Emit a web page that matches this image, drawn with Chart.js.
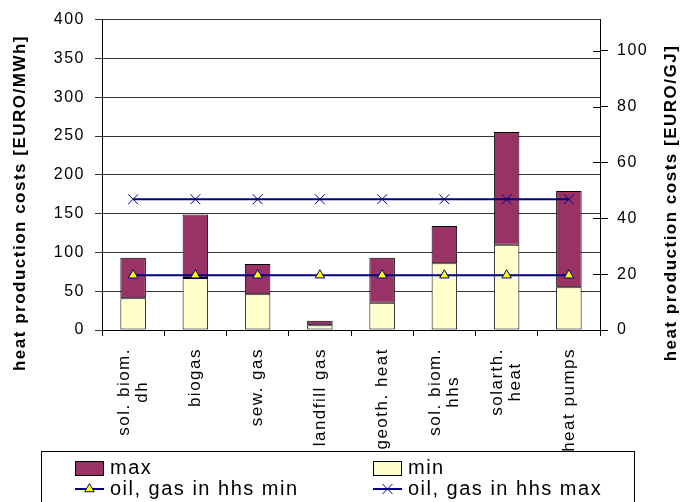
<!DOCTYPE html>
<html>
<head>
<meta charset="utf-8">
<style>
  html, body { margin: 0; padding: 0; background: #ffffff; }
  canvas { display: block; }
</style>
<script src="https://cdn.jsdelivr.net/npm/chart.js@4/dist/chart.umd.min.js"></script>
</head>
<body>
<canvas id="chart" width="690" height="502"></canvas>
<script>
// Heat production cost ranges per technology (EURO/MWh)
const categories = [
  ['sol. biom.', 'dh'],
  ['biogas'],
  ['sew. gas'],
  ['landfill gas'],
  ['geoth. heat'],
  ['sol. biom.', 'hhs'],
  ['solarth.', 'heat'],
  ['heat pumps']
];
const minCost = [41, 67, 46, 6, 35, 86, 110, 55];
const maxCost = [93, 149, 85, 12, 93, 134, 255, 179];

// Reference costs of oil / gas heating in households (EURO/MWh)
const oilGasMin = [70.6, 70.6, 70.6, 70.6, 70.6, 70.6, 70.6, 70.6];
const oilGasMax = [168.5, 168.5, 168.5, 168.5, 168.5, 168.5, 168.5, 168.5];

// Axis ticks: left in EURO/MWh, right in EURO/GJ
const mwhTicks = [0, 50, 100, 150, 200, 250, 300, 350, 400];
const gjTicks = [0, 20, 40, 60, 80, 100];
const GJ_PER_MWH = 3.6;

const FONT = '"Liberation Sans", Arial, sans-serif';
const SPACING = '1.5px';
const MAX_COLOR = '#993366';
const MIN_COLOR = '#FFFFCC';
const LINE_COLOR = '#000080';

// Axis titles, category labels, inner right ticks and the boxed legend
const decor = {
  id: 'decor',
  beforeDraw(chart) {
    chart.ctx.letterSpacing = SPACING;
  },
  afterDraw(chart) {
    const ctx = chart.ctx;
    const area = chart.chartArea;
    const xs = chart.scales.x;
    const y2 = chart.scales.y2;

    ctx.save();
    ctx.letterSpacing = SPACING;

    // right axis tick marks cross the axis line
    ctx.strokeStyle = '#000';
    ctx.lineWidth = 1;
    y2.ticks.forEach(t => {
      const y = Math.round(y2.getPixelForValue(t.value)) + 0.5;
      ctx.beginPath();
      ctx.moveTo(area.right - 7, y);
      ctx.lineTo(area.right, y);
      ctx.stroke();
    });

    // category labels, rotated, lines centred on each other
    ctx.fillStyle = '#000';
    ctx.font = '17px ' + FONT;
    ctx.textAlign = 'center';
    ctx.textBaseline = 'middle';
    categories.forEach((lines, i) => {
      const cx = xs.getPixelForValue(i);
      const longest = Math.max(...lines.map(l => ctx.measureText(l).width));
      const cy = area.bottom + 18 + longest / 2;
      lines.forEach((line, j) => {
        ctx.save();
        ctx.translate(cx + (j - (lines.length - 1) / 2) * 18, cy);
        ctx.rotate(-Math.PI / 2);
        ctx.fillText(line, 0, 0);
        ctx.restore();
      });
    });

    // axis titles
    ctx.font = 'bold 17px ' + FONT;
    [[20, 'heat production costs [EURO/MWh]'], [671, 'heat production costs [EURO/GJ]']].forEach(([x, text]) => {
      ctx.save();
      ctx.translate(x, 203);
      ctx.rotate(-Math.PI / 2);
      ctx.fillText(text, 0, 0);
      ctx.restore();
    });

    // legend
    ctx.strokeStyle = '#000';
    ctx.lineWidth = 1;
    ctx.strokeRect(41.5, 451.5, 593, 80);
    const ds = chart.data.datasets;
    const entries = [
      { d: ds[0], x: 75, y: 468 },
      { d: ds[1], x: 373, y: 468 },
      { d: ds[2], x: 75, y: 489 },
      { d: ds[3], x: 373, y: 489 }
    ];
    entries.forEach(({ d, x, y }) => {
      if (d.type === 'bar') {
        ctx.fillStyle = d.backgroundColor;
        ctx.fillRect(x, y - 7, 29, 15);
        ctx.strokeStyle = '#000';
        ctx.lineWidth = 1;
        ctx.strokeRect(x + 0.5, y - 6.5, 28, 14);
      } else {
        ctx.strokeStyle = d.borderColor;
        ctx.lineWidth = 2;
        ctx.beginPath();
        ctx.moveTo(x, y);
        ctx.lineTo(x + 29, y);
        ctx.stroke();
        ctx.fillStyle = d.pointBackgroundColor;
        ctx.strokeStyle = d.pointBorderColor;
        ctx.lineWidth = d.pointBorderWidth;
        Chart.helpers.drawPoint(ctx, {
          pointStyle: d.pointStyle, radius: d.pointRadius, rotation: 0, borderWidth: d.pointBorderWidth
        }, x + 14.5, y);
      }
      ctx.fillStyle = '#000';
      ctx.font = '20px ' + FONT;
      ctx.textAlign = 'left';
      ctx.textBaseline = 'middle';
      ctx.fillText(d.label, x + 35, y);
    });

    ctx.restore();
  }
};

const tickFont = { family: FONT, size: 16 };

new Chart(document.getElementById('chart'), {
  data: {
    labels: categories.map(c => c.join(' ')),
    datasets: [
      {
        type: 'bar', label: 'max',
        data: minCost.map((v, i) => [v, maxCost[i]]),
        backgroundColor: MAX_COLOR, borderColor: '#000', borderWidth: 1, borderSkipped: false,
        grouped: false, barPercentage: 0.41, categoryPercentage: 1, order: 2
      },
      {
        type: 'bar', label: 'min',
        data: minCost,
        backgroundColor: MIN_COLOR, borderColor: '#000', borderWidth: 1, borderSkipped: false,
        grouped: false, barPercentage: 0.41, categoryPercentage: 1, order: 2
      },
      {
        type: 'line', label: 'oil, gas in hhs min',
        data: oilGasMin,
        borderColor: LINE_COLOR, borderWidth: 2,
        pointStyle: 'triangle', pointRadius: 5.5,
        pointBackgroundColor: '#FFFF00', pointBorderColor: LINE_COLOR, pointBorderWidth: 1,
        order: 1
      },
      {
        type: 'line', label: 'oil, gas in hhs max',
        data: oilGasMax,
        borderColor: LINE_COLOR, borderWidth: 2,
        pointStyle: 'crossRot', pointRadius: 7,
        pointBackgroundColor: LINE_COLOR, pointBorderColor: LINE_COLOR, pointBorderWidth: 1,
        order: 1
      }
    ]
  },
  options: {
    responsive: false,
    animation: false,
    devicePixelRatio: 1,
    layout: { padding: { top: 15, left: 0, right: 0, bottom: 0 } },
    plugins: { legend: { display: false }, tooltip: { enabled: false } },
    scales: {
      x: {
        type: 'category',
        offset: true,
        grid: { offset: true, drawOnChartArea: false, tickLength: 6, color: '#000' },
        border: { color: '#000', width: 1 },
        ticks: { display: false },
        afterFit(s) { s.height = 172; }
      },
      y: {
        position: 'left',
        min: 0, max: 400,
        afterBuildTicks(s) { s.ticks = mwhTicks.map(v => ({ value: v })); },
        grid: { color: '#333', tickLength: 7 },
        border: { color: '#000', width: 1 },
        ticks: { font: tickFont, color: '#000', padding: 10 },
        afterFit(s) { s.width = 102; }
      },
      y2: {
        position: 'right',
        min: 0, max: 400 / GJ_PER_MWH,
        afterBuildTicks(s) { s.ticks = gjTicks.map(v => ({ value: v })); },
        grid: { drawOnChartArea: false, tickLength: 8, color: '#000' },
        border: { color: '#000', width: 1 },
        ticks: { font: tickFont, color: '#000', padding: 9 },
        afterFit(s) { s.width = 90; }
      }
    }
  },
  plugins: [decor]
});
</script>
</body>
</html>
